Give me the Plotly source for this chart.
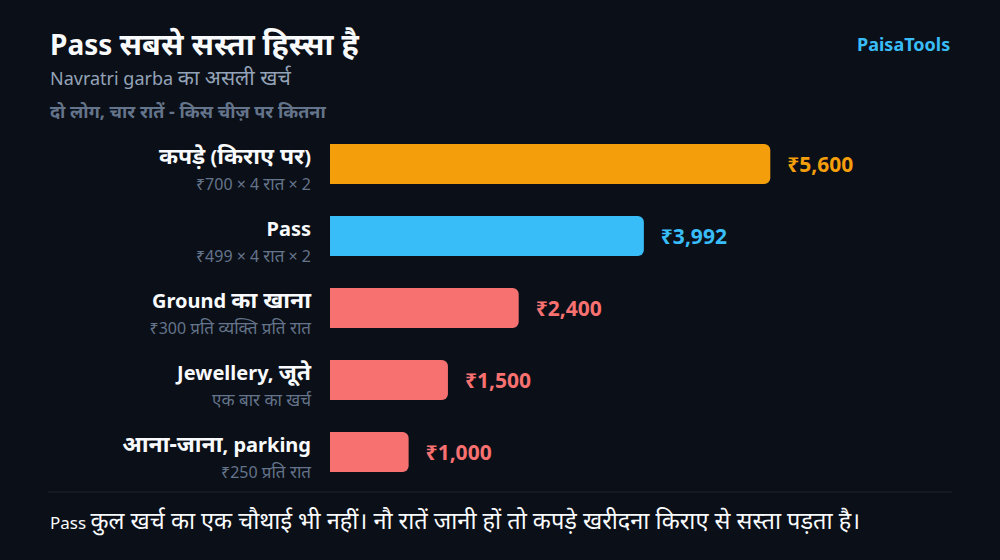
import re
import plotly.graph_objects as go

# data
items = ["कपड़े (किराए पर)", "Pass", "Ground का खाना", "Jewellery, जूते", "आना-जाना, parking"]
notes = ["₹700 × 4 रात × 2", "₹499 × 4 रात × 2", "₹300 प्रति व्यक्ति प्रति रात",
         "एक बार का खर्च", "₹250 प्रति रात"]
costs = [5600, 3992, 2400, 1500, 1000]
bar_colors = ["#f59e0b", "#38bdf8", "#f87171", "#f87171", "#f87171"]

BG = "#0b0f17"
FONT = "Noto Sans"
W, H = 1000, 560
L, R, T, B = 330, 41, 128, 72


def px(x):
    return (x - L) / (W - L - R)


def py(y):
    return (H - B - y) / (H - T - B)


def dev(s, size):
    # devanagari glyphs run small next to latin, bump them up a bit
    return re.sub(r"[\u0900-\u097F]+(?:[ ,\-]+[\u0900-\u097F]+)*",
                  lambda m: f"<span style='font-size:{size}px'>{m.group(0)}</span>", s)


ticktext = [f"<b>{dev(n, 23)}</b><br><span style='font-size:16px;color:#64748b'>{dev(s, 17)}</span>"
            for n, s in zip(items, notes)]
labels = ["\u2002\u2009₹{:,}".format(v) for v in costs]

fig = go.Figure(go.Bar(
    x=costs, y=items, orientation="h",
    marker=dict(color=bar_colors, line_width=0),
    text=labels, textposition="outside", cliponaxis=False,
    textfont=dict(family=FONT, size=21, color=bar_colors, weight="bold"),
    hoverinfo="skip",
))

fig.update_layout(
    width=W, height=H,
    paper_bgcolor=BG, plot_bgcolor=BG,
    margin=dict(l=L, r=R, t=T, b=B),
    bargap=0.444, barcornerradius=6,
    showlegend=False,
    font=dict(family=FONT, color="#f1f5f9"),
)
fig.update_xaxes(range=[0, 8000], visible=False, fixedrange=True)
fig.update_yaxes(
    autorange="reversed", tickmode="array", tickvals=items, ticktext=ticktext,
    tickfont=dict(family=FONT, size=20, color="#f8fafc"),
    showgrid=False, zeroline=False, showline=False, ticks="",
    ticklabelstandoff=18, ticklabelshift=-6, fixedrange=True,
)

# header texts
fig.add_annotation(x=px(48), y=py(43), xref="paper", yref="paper", xanchor="left", yanchor="middle",
                   text="<b>" + dev("Pass सबसे सस्ता हिस्सा है", 30.5) + "</b>", showarrow=False,
                   font=dict(family=FONT, size=28, color="#f8fafc"))
fig.add_annotation(x=px(48), y=py(77), xref="paper", yref="paper", xanchor="left", yanchor="middle",
                   text=dev("Navratri garba का असली खर्च", 21), showarrow=False,
                   font=dict(family=FONT, size=18, color="#94a3b8"))
fig.add_annotation(x=px(48), y=py(111), xref="paper", yref="paper", xanchor="left", yanchor="middle",
                   text="<b>दो लोग, चार रातें - किस चीज़ पर कितना</b>", showarrow=False,
                   font=dict(family=FONT, size=18, color="#64748b"))
fig.add_annotation(x=px(952), y=py(44), xref="paper", yref="paper", xanchor="right", yanchor="middle",
                   text="<b>PaisaTools</b>", showarrow=False,
                   font=dict(family=FONT, size=18, color="#38bdf8"))

# footer
fig.add_shape(type="line", xref="paper", yref="paper", x0=px(48), x1=px(952), y0=py(492), y1=py(492),
              line=dict(color="#1e2533", width=1))
fig.add_annotation(x=px(48), y=py(520), xref="paper", yref="paper", xanchor="left", yanchor="middle",
                   text=dev("Pass कुल खर्च का एक चौथाई भी नहीं। नौ रातें जानी हों तो कपड़े खरीदना किराए से सस्ता पड़ता है।", 23.5),
                   showarrow=False, font=dict(family=FONT, size=17, color="#f8fafc"))

fig.write_html("out.html", config={"displayModeBar": False},
               post_script="document.body.style.margin='0';document.body.style.background='" + BG + "';")
